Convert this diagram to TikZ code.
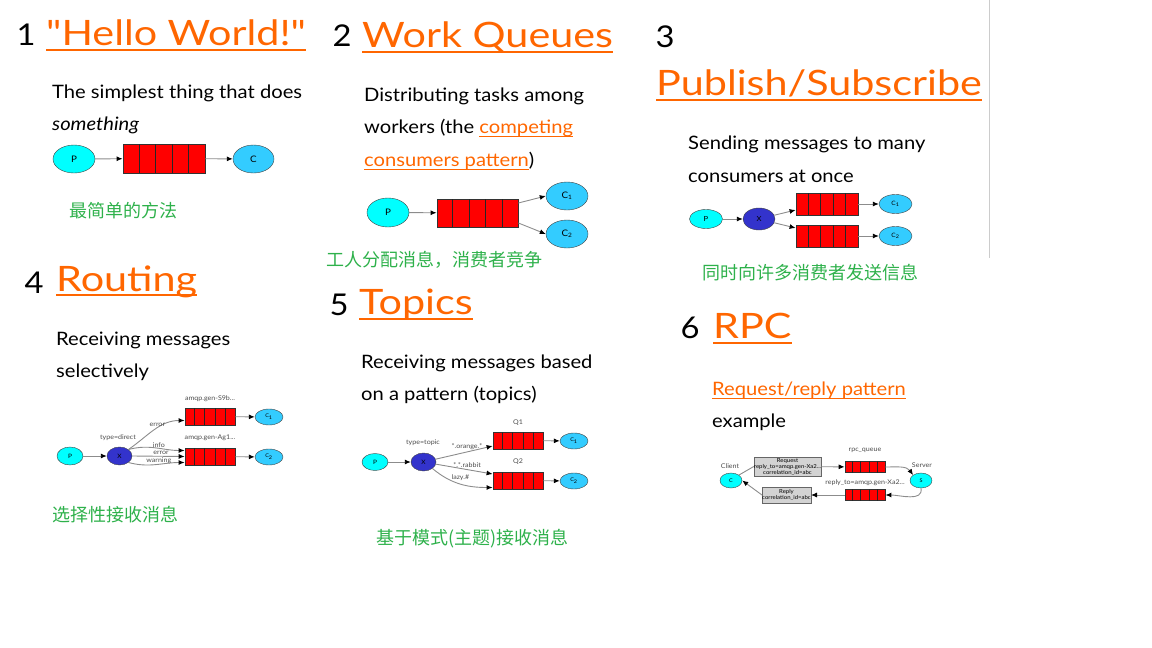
\documentclass[tikz,border=0pt]{standalone}
\usepackage{fontspec}
\setmainfont[FakeStretch=1.09]{Lato}
\newfontfamily\headfont[FakeStretch=1.18]{Lato}
\newfontfamily\cjk{Noto Sans CJK SC}
\usetikzlibrary{positioning,arrows.meta,calc,shapes.geometric}
\definecolor{link}{HTML}{FF6600}
\definecolor{cnote}{HTML}{2EB14B}
\definecolor{prodcol}{HTML}{00FFFF}
\definecolor{conscol}{HTML}{33CCFF}
\definecolor{exchcol}{HTML}{3333CC}
\definecolor{edgecol}{HTML}{8C8C8C}
\definecolor{msgcol}{HTML}{D3D3D3}
\definecolor{rulecol}{HTML}{CCCCCC}
\newcommand{\linkul}[1]{\textcolor{link}{\setbox0\hbox{#1}\rlap{\rule[-3.5pt]{\wd0}{1pt}}\box0}}

\begin{document}
\begin{tikzpicture}[x=1pt,y=-1pt,
    num/.style={inner sep=0,font=\fontsize{30}{30}\selectfont},
    head/.style={anchor=base west,inner sep=0,text=link,font=\headfont\fontsize{35}{35}\selectfont},
    body/.style={anchor=west,inner sep=0,font=\fontsize{18.5}{20}\selectfont},
    note/.style={anchor=west,inner sep=0,text=cnote,font=\cjk\fontsize{18}{18}\selectfont},
    prod/.style={ellipse,draw=black!75,fill=prodcol,inner sep=0,font=\fontsize{9}{9}\selectfont},
    cons/.style={ellipse,draw=black!75,fill=conscol,inner sep=0,font=\fontsize{9}{9}\selectfont},
    exch/.style={ellipse,draw=black!75,fill=exchcol,inner sep=0,font=\fontsize{9}{9}\selectfont},
    queue/.style={draw=black!80,line width=0.8pt,fill=red,inner sep=0},
    cell/.style={draw=black!85,line width=1pt},
    msg/.style={draw=black!60,fill=msgcol,inner sep=0,align=center,font=\fontsize{5.5}{6}\selectfont},
    elabel/.style={inner sep=0,text=black!70,font=\fontsize{6.5}{7}\selectfont},
    flow/.style={draw=edgecol,line width=0.9pt,-{Latex[length=6pt,width=5pt,color=black]}},
    uline/.style={link,line width=2pt}]
  \useasboundingbox (0,0) rectangle (1152,648);
  \draw[rulecol,line width=1pt] (989,0) -- (989,258);

  % 1 hello world
  \node[num] (n1) at (26,35) {1};
  \node[head] (h1) at (46,45) {"Hello World!"};
  \draw[uline] ([yshift=-5pt]h1.base west) -- ([yshift=-5pt]h1.base east);
  \node[body] (t1a) at (52,93) {The simplest thing that does};
  \node[body] (t1b) at (52,125) {\textit{something}};
  \node[prod,minimum width=42pt,minimum height=28pt] (p1) at (74,159) {P};
  \node[queue,minimum width=82pt,minimum height=29pt] (q1) at (164,158.5) {};
  \node[cons,minimum width=41pt,minimum height=28pt] (c1) at (253.5,159) {C};
  \draw[flow] (p1) -- (q1);
  \draw[flow] (q1) -- (c1);
  \node[note] (z1) at (69,211) {最简单的方法};

  % 2 work queues
  \node[num] (n2) at (342,36) {2};
  \node[head] (h2) at (362,47) {Work Queues};
  \draw[uline] ([yshift=-5pt]h2.base west) -- ([yshift=-5pt]h2.base east);
  \node[body] (t2a) at (364,96) {Distributing tasks among};
  \node[body] (t2b) at (364,128) {workers (the \linkul{competing}};
  \node[body] (t2c) at (364,161) {\linkul{consumers pattern})};
  \node[prod,minimum width=42pt,minimum height=29pt] (p2) at (388,212.5) {P};
  \node[queue,minimum width=81pt,minimum height=28pt] (q2) at (477.5,213) {};
  \node[cons,minimum width=42pt,minimum height=28pt] (c21) at (567,196) {C\textsubscript{1}};
  \node[cons,minimum width=42pt,minimum height=28pt] (c22) at (567,234) {C\textsubscript{2}};
  \draw[flow] (p2) -- (q2);
  \draw[flow] ([yshift=10pt]q2.east) -- (c21.west);
  \draw[flow] ([yshift=-10pt]q2.east) -- (c22.west);
  \node[note] (z2) at (326,260) {工人分配消息，消费者竞争};

  % 3 publish/subscribe
  \node[num] (n3) at (665,37) {3};
  \node[head] (h3) at (656,95) {Publish/Subscribe};
  \draw[uline] ([yshift=-5pt]h3.base west) -- ([yshift=-5pt]h3.base east);
  \node[body] (t3a) at (688,144) {Sending messages to many};
  \node[body] (t3b) at (688,176) {consumers at once};
  \node[prod,minimum width=33pt,minimum height=19pt,font=\fontsize{7}{7}\selectfont] (p3) at (706,219) {P};
  \node[exch,minimum width=32pt,minimum height=22pt,font=\fontsize{7}{7}\selectfont] (x3) at (759,219) {X};
  \node[queue,minimum width=62pt,minimum height=22pt] (q31) at (827,204) {};
  \node[queue,minimum width=62pt,minimum height=22pt] (q32) at (827,236) {};
  \node[cons,minimum width=33pt,minimum height=19pt,font=\fontsize{6}{6}\selectfont] (c31) at (895.5,204) {C\textsubscript{1}};
  \node[cons,minimum width=33pt,minimum height=19pt,font=\fontsize{6}{6}\selectfont] (c32) at (895.5,236) {C\textsubscript{2}};
  \draw[flow] (p3) -- (x3);
  \draw[flow] (x3) -- ([yshift=-6pt]q31.west);
  \draw[flow] (x3) -- ([yshift=8pt]q32.west);
  \draw[flow] (q31) -- (c31);
  \draw[flow] (q32) -- (c32);
  \node[note] (z3) at (702,273) {同时向许多消费者发送信息};

  % 4 routing
  \node[num] (n4) at (34,283) {4};
  \node[head] (h4) at (56,291) {Routing};
  \draw[uline] ([yshift=-4pt]h4.base west) -- ([yshift=-4pt]h4.base east);
  \node[body] (t4a) at (56,340) {Receiving messages};
  \node[body] (t4b) at (56,372) {selectively};
  \node[prod,minimum width=26pt,minimum height=18pt,font=\fontsize{6}{6}\selectfont] (p4) at (70,456) {P};
  \node[exch,minimum width=25pt,minimum height=18pt,font=\fontsize{6}{6}\selectfont] (x4) at (119.5,456) {X};
  \node[queue,minimum width=50pt,minimum height=17pt] (q41) at (210,416.5) {};
  \node[queue,minimum width=50pt,minimum height=17pt] (q42) at (210,456.5) {};
  \node[cons,minimum width=28pt,minimum height=16pt,font=\fontsize{5}{5}\selectfont] (c41) at (269,417) {C\textsubscript{1}};
  \node[cons,minimum width=28pt,minimum height=16pt,font=\fontsize{5}{5}\selectfont] (c42) at (269,457) {C\textsubscript{2}};
  \node[elabel] (l41) at (210,399) {amqp.gen-S9b...};
  \node[elabel] (l42) at (210,438) {amqp.gen-Ag1...};
  \node[elabel] (l43) at (118,438) {type=direct};
  \draw[flow] (p4) -- (x4);
  \draw[flow] (x4.north east) to[out=35,in=180] node[elabel,pos=0.55,above=1pt] (l44) {error} ([yshift=-4pt]q41.west);
  \draw[flow] (x4.north east) to[out=15,in=180] node[elabel,pos=0.55,above=0.5pt] (l45) {info} ([yshift=6pt]q42.west);
  \draw[flow] (x4.east) -- node[elabel,pos=0.55,above=1pt] (l46) {error} (q42.west);
  \draw[flow] (x4.south east) to[out=-15,in=180] node[elabel,pos=0.55,above=0.5pt] (l47) {warning} ([yshift=-6pt]q42.west);
  \draw[flow] (q41) -- (c41);
  \draw[flow] (q42) -- (c42);
  \node[note] (z4) at (52,515) {选择性接收消息};

  % 5 topics
  \node[num] (n5) at (339,305) {5};
  \node[head] (h5) at (359,314) {Topics};
  \draw[uline] ([yshift=-5pt]h5.base west) -- ([yshift=-5pt]h5.base east);
  \node[body] (t5a) at (361,363) {Receiving messages based};
  \node[body] (t5b) at (361,395) {on a pattern (topics)};
  \node[prod,minimum width=26pt,minimum height=17pt,font=\fontsize{6}{6}\selectfont] (p5) at (375,462) {P};
  \node[exch,minimum width=25pt,minimum height=18pt,font=\fontsize{6}{6}\selectfont] (x5) at (423.5,462) {X};
  \node[queue,minimum width=50pt,minimum height=17pt] (q51) at (518,440.5) {};
  \node[queue,minimum width=50pt,minimum height=17pt] (q52) at (518,480.5) {};
  \node[cons,minimum width=28pt,minimum height=16pt,font=\fontsize{5}{5}\selectfont] (c51) at (574,441) {C\textsubscript{1}};
  \node[cons,minimum width=28pt,minimum height=16pt,font=\fontsize{5}{5}\selectfont] (c52) at (574,481) {C\textsubscript{2}};
  \node[elabel] (l51) at (518,423) {Q1};
  \node[elabel] (l52) at (518,462) {Q2};
  \node[elabel] (l53) at (423,443) {type=topic};
  \draw[flow] (p5) -- (x5);
  \draw[flow] (x5) -- node[elabel,pos=0.55,above=2pt] (l54) {*.orange.*} ([yshift=-5.5pt]q51.west);
  \draw[flow] (x5) -- node[elabel,pos=0.55,above=2pt] (l55) {*.*.rabbit} ([yshift=6.5pt]q52.west);
  \draw[flow] (x5.south east) to[out=-40,in=180] node[elabel,pos=0.5,above=3pt] (l56) {lazy.\#} ([yshift=-7pt]q52.west);
  \draw[flow] (q51) -- (c51);
  \draw[flow] (q52) -- (c52);
  \node[note] (z5) at (376,539) {基于模式(主题)接收消息};

  % 6 rpc
  \node[num] (n6) at (690,328) {6};
  \node[head] (h6) at (713,338) {RPC};
  \draw[uline] ([yshift=-5pt]h6.base west) -- ([yshift=-5pt]h6.base east);
  \node[body] (t6a) at (712,390) {\linkul{Request/reply pattern}};
  \node[body] (t6b) at (712,422) {example};
  \node[prod,minimum width=22pt,minimum height=15pt,font=\fontsize{5}{5}\selectfont] (cl6) at (731,480.5) {C};
  \node[prod,minimum width=22pt,minimum height=15pt,font=\fontsize{5}{5}\selectfont] (sv6) at (921,480.5) {S};
  \node[elabel] (l61) at (730,466) {Client};
  \node[elabel] (l62) at (922,465) {Server};
  \node[msg,minimum width=65pt,minimum height=19pt] (rq6) at (787.5,466.5) {Request\\reply\_to=amqp.gen-Xa2...\\correlation\_id=abc};
  \node[msg,minimum width=47pt,minimum height=16pt] (rp6) at (786.5,495) {Reply\\correlation\_id=abc};
  \node[queue,minimum width=40pt,minimum height=11pt] (q61) at (865,467) {};
  \node[queue,minimum width=40pt,minimum height=11pt] (q62) at (865,495) {};
  \node[elabel] (l63) at (865,450) {rpc\_queue};
  \node[elabel] (l64) at (865,483) {reply\_to=amqp.gen-Xa2...};
  % queue cells
  \foreach \q in {q1,q2,q31,q32,q41,q42,q51,q52,q61,q62}{
    \foreach \i in {1,2,3,4}{
      \coordinate (cb) at ($(\q.south west)!\i/5!(\q.south east)$);
      \coordinate (ct) at ($(\q.north west)!\i/5!(\q.north east)$);
      \draw[cell] (cb) -- (ct);
    }
  }
  \draw[draw=edgecol,line width=0.9pt] (cl6.north east) -- (rq6.west);
  \draw[flow] (rq6) -- (q61);
  \draw[flow] (q61.east) to[out=0,in=125] (sv6.north west);
  \draw[flow] (sv6.south) to[out=-80,in=0] (q62.east);
  \draw[flow] (q62) -- (rp6);
  \draw[flow] (rp6.west) -- (cl6.east);
\end{tikzpicture}
\end{document}
